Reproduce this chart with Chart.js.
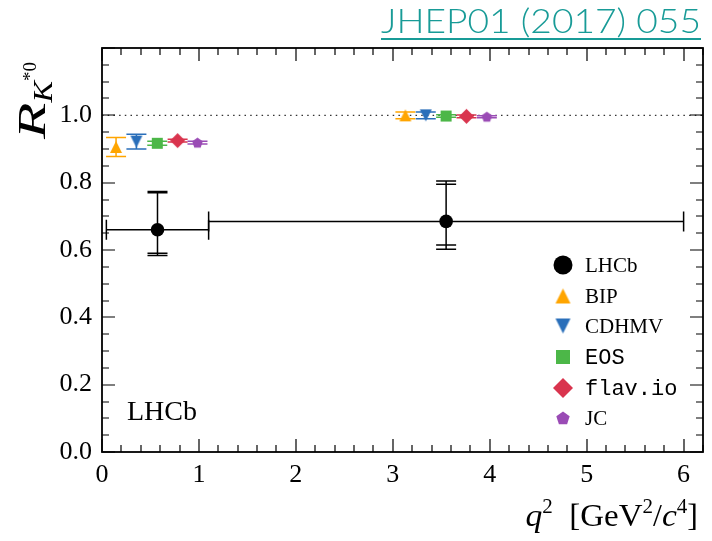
<!DOCTYPE html>
<html><head><meta charset="utf-8">
<script src="https://cdn.jsdelivr.net/npm/chart.js@4/dist/chart.umd.min.js"></script>
<style>
html,body{margin:0;padding:0;background:#fff;}
#wrap{position:relative;width:712px;height:541px;overflow:hidden;}
#title{position:absolute;left:381px;top:0px;font-family:'Lato',sans-serif;font-weight:300;font-size:33px;color:#189b97;
 text-decoration:underline;text-decoration-thickness:2px;text-underline-offset:5px;white-space:nowrap;transform-origin:0 0;line-height:40px;}
</style></head><body>
<div id="wrap"><canvas id="c" width="712" height="541"></canvas><div id="title">JHEP01 (2017) 055</div></div>
<script>
// ---- data ----
const binLow = [0.045, 1.1];
const binHigh = [1.1, 6.0];
const lhcbX = [0.5725, 3.55];
const lhcbY = [0.66, 0.685];
const lhcbStatUp = [0.11, 0.11];
const lhcbStatDown = [0.07, 0.07];
const lhcbTotUp = [0.114, 0.12];
const lhcbTotDown = [0.076, 0.083];

const models = ['BIP', 'CDHMV', 'EOS', 'flav.io', 'JC'];
const modelColors = ['#ffa500', '#2a6fba', '#4cb748', '#d9344e', '#9a4bb5'];
const modelXLow = [0.145, 0.355, 0.57, 0.78, 0.985];
const modelXHigh = [3.13, 3.34, 3.55, 3.76, 3.97];
const modelYLow = [0.906, 0.922, 0.917, 0.925, 0.919];
const modelErrLow = [0.028, 0.022, 0.006, 0.004, 0.004];
const modelYHigh = [1.000, 1.000, 0.998, 0.997, 0.996];
const modelErrHigh = [0.010, 0.010, 0.004, 0.004, 0.003];

const xTicks = [0, 1, 2, 3, 4, 5, 6];
const yTicks = [0.0, 0.2, 0.4, 0.6, 0.8, 1.0];
const refLine = 1.0;

const SERIF = "Liberation Serif, serif";

// ---- marker images ----
function markerImg(shape, color, size) {
  const w = Math.ceil(size) + 4;
  const c = document.createElement('canvas');
  c.width = w; c.height = w;
  const g = c.getContext('2d');
  const cx = w / 2, cy = w / 2, h = size / 2;
  g.fillStyle = color;
  g.beginPath();
  if (shape === 'up') { g.moveTo(cx, cy - h); g.lineTo(cx + h, cy + h); g.lineTo(cx - h, cy + h); }
  else if (shape === 'down') { g.moveTo(cx, cy + h); g.lineTo(cx + h, cy - h); g.lineTo(cx - h, cy - h); }
  else if (shape === 'square') { g.rect(cx - h, cy - h, 2 * h, 2 * h); }
  else if (shape === 'diamond') { g.moveTo(cx, cy - h); g.lineTo(cx + h, cy); g.lineTo(cx, cy + h); g.lineTo(cx - h, cy); }
  else if (shape === 'pentagon') {
    for (let i = 0; i < 5; i++) {
      const a = -Math.PI / 2 + i * 2 * Math.PI / 5;
      const px = cx + h * Math.cos(a), py = cy + 0.5 + h * Math.sin(a);
      if (i === 0) g.moveTo(px, py); else g.lineTo(px, py);
    }
  }
  g.closePath(); g.fill();
  return c;
}
const shapes = ['up', 'down', 'square', 'diamond', 'pentagon'];
const plotSizes = [12, 12, 11, 15, 11];
const legendSizes = [15, 15, 14, 20, 14];
const plotImgs = shapes.map((s, i) => markerImg(s, modelColors[i], plotSizes[i]));
const legendImgs = shapes.map((s, i) => markerImg(s, modelColors[i], legendSizes[i]));

// ---- datasets ----
const datasets = [{
  label: 'LHCb',
  data: lhcbX.map((x, i) => ({ x: x, y: lhcbY[i] })),
  pointStyle: 'circle', pointRadius: 6.8, pointHoverRadius: 6.8,
  backgroundColor: '#000', borderColor: '#000', borderWidth: 0, showLine: false
}];
models.forEach((m, i) => {
  datasets.push({
    label: m,
    data: [{ x: modelXLow[i], y: modelYLow[i] }, { x: modelXHigh[i], y: modelYHigh[i] }],
    pointStyle: plotImgs[i], backgroundColor: modelColors[i], borderColor: modelColors[i],
    borderWidth: 0, showLine: false
  });
});

function drawPieces(ctx, pieces, endX, baseY) {
  let tw = 0;
  pieces.forEach(p => { ctx.font = p[1]; tw += ctx.measureText(p[0]).width * (p[3] || 1); });
  let cx = endX - tw;
  pieces.forEach(p => {
    ctx.font = p[1];
    const sx = p[3] || 1;
    ctx.save(); ctx.translate(cx, baseY + p[2]); ctx.scale(sx, 1);
    ctx.fillText(p[0], 0, 0); ctx.restore();
    cx += ctx.measureText(p[0]).width * sx;
  });
}

const deco = {
  id: 'deco',
  beforeDatasetsDraw(chart) {
    const { ctx, scales: { x, y }, chartArea: a } = chart;
    ctx.save();
    ctx.strokeStyle = '#333'; ctx.lineWidth = 1.1; ctx.setLineDash([1.5, 4.2]);
    ctx.beginPath(); ctx.moveTo(a.left, y.getPixelForValue(refLine)); ctx.lineTo(a.right, y.getPixelForValue(refLine)); ctx.stroke();
    ctx.setLineDash([]);
    const cap = 10;
    ctx.strokeStyle = '#000'; ctx.lineWidth = 1.5;
    for (let i = 0; i < lhcbX.length; i++) {
      const px = x.getPixelForValue(lhcbX[i]), py = y.getPixelForValue(lhcbY[i]);
      const xl = x.getPixelForValue(binLow[i]), xr = x.getPixelForValue(binHigh[i]);
      ctx.beginPath();
      ctx.moveTo(xl, py); ctx.lineTo(xr, py);
      ctx.moveTo(xl, py - cap); ctx.lineTo(xl, py + cap);
      ctx.moveTo(xr, py - cap); ctx.lineTo(xr, py + cap);
      const tu = y.getPixelForValue(lhcbY[i] + lhcbTotUp[i]), td = y.getPixelForValue(lhcbY[i] - lhcbTotDown[i]);
      const su = y.getPixelForValue(lhcbY[i] + lhcbStatUp[i]), sd = y.getPixelForValue(lhcbY[i] - lhcbStatDown[i]);
      ctx.moveTo(px, tu); ctx.lineTo(px, td);
      [tu, td, su, sd].forEach(v => { ctx.moveTo(px - cap, v); ctx.lineTo(px + cap, v); });
      ctx.stroke();
    }
    ctx.lineWidth = 1.5;
    models.forEach((m, i) => {
      ctx.strokeStyle = modelColors[i];
      [[modelXLow[i], modelYLow[i], modelErrLow[i]], [modelXHigh[i], modelYHigh[i], modelErrHigh[i]]].forEach(([vx, vy, e]) => {
        const px = x.getPixelForValue(vx);
        const u = y.getPixelForValue(vy + e), d = y.getPixelForValue(vy - e);
        ctx.beginPath();
        ctx.moveTo(px, u); ctx.lineTo(px, d);
        ctx.moveTo(px - cap, u); ctx.lineTo(px + cap, u);
        ctx.moveTo(px - cap, d); ctx.lineTo(px + cap, d);
        ctx.stroke();
      });
    });
    ctx.restore();
  },
  afterDraw(chart) {
    const { ctx, scales: { x, y }, chartArea: a } = chart;
    ctx.save();
    ctx.strokeStyle = '#000'; ctx.lineWidth = 1.2;
    const maj = 13, mnr = 7;
    ctx.beginPath();
    for (let k = 0; k <= 31; k++) {
      const v = k * 0.2;
      if (v > 6.2001) break;
      const px = Math.round(x.getPixelForValue(v));
      const L = (k % 5 === 0) ? maj : mnr;
      ctx.moveTo(px, a.bottom); ctx.lineTo(px, a.bottom - L);
      ctx.moveTo(px, a.top); ctx.lineTo(px, a.top + L);
    }
    for (let k = 0; k <= 24; k++) {
      const v = k * 0.05;
      const py = Math.round(y.getPixelForValue(v));
      const L = (k % 4 === 0) ? maj : mnr;
      ctx.moveTo(a.left, py); ctx.lineTo(a.left + L, py);
      ctx.moveTo(a.right, py); ctx.lineTo(a.right - L, py);
    }
    ctx.stroke();
    ctx.lineWidth = 1.8;
    ctx.strokeRect(a.left, a.top, a.right - a.left, a.bottom - a.top);

    ctx.fillStyle = '#000';
    ctx.font = "28px " + SERIF;
    ctx.textBaseline = 'alphabetic'; ctx.textAlign = 'left';
    ctx.fillText('LHCb', 127, 420);

    // legend
    const lx = 563, tx = 585;
    const rows = [265, 296, 326, 357, 388, 418];
    ctx.fillStyle = '#000'; ctx.beginPath(); ctx.arc(lx, rows[0], 9.5, 0, Math.PI * 2); ctx.fill();
    models.forEach((m, i) => {
      Chart.helpers.drawPoint(ctx, { pointStyle: legendImgs[i], radius: 8, rotation: 0, borderWidth: 0 }, lx, rows[i + 1]);
    });
    ctx.fillStyle = '#000'; ctx.textBaseline = 'middle';
    const labels = ['LHCb'].concat(models);
    const mono = ['EOS', 'flav.io'];
    labels.forEach((t, i) => {
      ctx.font = mono.includes(t) ? "22px Liberation Mono" : "21px " + SERIF;
      ctx.fillText(t, tx, rows[i] + 1);
    });

    // x-axis label
    ctx.textBaseline = 'alphabetic';
    drawPieces(ctx, [
      ['q', "italic 32px " + SERIF, 0, 1.05],
      ['2', "21px " + SERIF, -13, 1],
      ['  [GeV', "32px " + SERIF, 0, 1.03],
      ['2', "21px " + SERIF, -13, 1],
      ['/', "32px " + SERIF, 0, 1],
      ['c', "italic 32px " + SERIF, 0, 1.05],
      ['4', "21px " + SERIF, -13, 1],
      [']', "32px " + SERIF, 0, 1]
    ], 698, 526);

    // y-axis label (rotated)
    ctx.translate(45, 62);
    ctx.rotate(-Math.PI / 2);
    drawPieces(ctx, [
      ['R', "italic 41px " + SERIF, 0, 1.45],
      ['K', "italic 27px " + SERIF, 7, 1.2],
      ['*0', "19px " + SERIF, -9, 1]
    ], 0, 0);
    ctx.restore();
  }
};

Chart.defaults.font.family = SERIF;
Chart.defaults.color = '#000';

new Chart(document.getElementById('c'), {
  type: 'scatter',
  data: { datasets: datasets },
  options: {
    responsive: false, animation: false, devicePixelRatio: 1,
    layout: { padding: { top: 48, right: 9, left: 0, bottom: 0 } },
    plugins: { legend: { display: false }, tooltip: { enabled: false } },
    events: [],
    scales: {
      x: {
        type: 'linear', min: 0, max: 6.2,
        grid: { display: false, drawTicks: false }, border: { display: false },
        ticks: { padding: 8, font: { size: 26, family: SERIF }, color: '#000', maxRotation: 0, autoSkip: false,
          callback: v => String(v) },
        afterBuildTicks: s => { s.ticks = xTicks.map(v => ({ value: v })); },
        afterFit: s => { s.height = 89; }
      },
      y: {
        type: 'linear', min: 0, max: 1.2,
        grid: { display: false, drawTicks: false }, border: { display: false },
        ticks: { padding: 10, font: { size: 26, family: SERIF }, color: '#000', autoSkip: false,
          callback: v => v.toFixed(1) },
        afterBuildTicks: s => { s.ticks = yTicks.map(v => ({ value: v })); },
        afterFit: s => { s.width = 102; }
      }
    }
  },
  plugins: [deco]
});

const t = document.getElementById('title');
const w = t.getBoundingClientRect().width;
t.style.transform = 'scaleX(' + (320 / w) + ')';
</script>
</body></html>
